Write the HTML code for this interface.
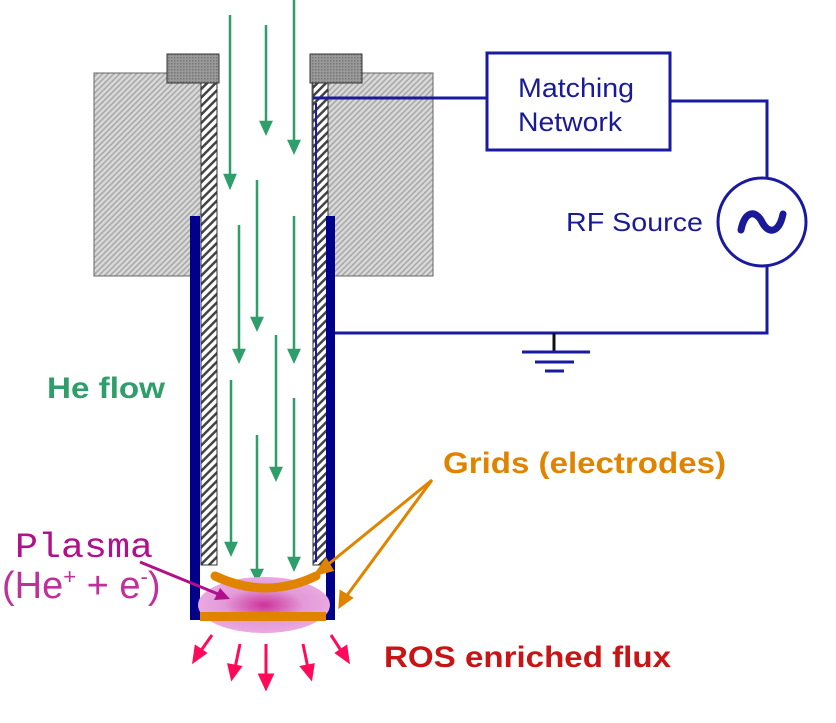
<!DOCTYPE html>
<html><head><meta charset="utf-8"><style>
html,body{margin:0;padding:0;background:#fff;}
svg{display:block;}
text{font-family:"Liberation Sans",sans-serif;}
</style></head><body>
<svg width="836" height="723" viewBox="0 0 836 723">
<defs>
<pattern id="fine" width="4" height="4" patternUnits="userSpaceOnUse" patternTransform="rotate(45)">
<rect width="4" height="4" fill="#d8d8d8"/><rect width="1.5" height="4" fill="#a8a8a8"/></pattern>
<pattern id="tube" width="6" height="6" patternUnits="userSpaceOnUse" patternTransform="rotate(45)">
<rect width="6" height="6" fill="#fff"/><rect width="2.5" height="6" fill="#444"/></pattern>
<pattern id="cap" width="3" height="3" patternUnits="userSpaceOnUse">
<rect width="3" height="3" fill="#999"/><rect width="1.5" height="1.5" fill="#777"/></pattern>
<radialGradient id="pg" cx="0.5" cy="0.5" r="0.5"><stop offset="0" stop-color="#cc3399"/><stop offset="0.6" stop-color="#e29ad8"/><stop offset="1" stop-color="#eaa8e0"/></radialGradient>
</defs>
<rect x="94" y="73" width="107" height="203" fill="url(#fine)" stroke="#666" stroke-width="1"/>
<rect x="312" y="73" width="121" height="203" fill="url(#fine)" stroke="#666" stroke-width="1"/>
<rect x="167" y="54" width="52" height="29" fill="url(#cap)" stroke="#333"/>
<rect x="310" y="54" width="52" height="29" fill="url(#cap)" stroke="#333"/>
<rect x="201" y="83" width="16" height="482" fill="url(#tube)" stroke="#333"/>
<rect x="313" y="83" width="15" height="482" fill="url(#tube)" stroke="#333"/>
<line x1="316" y1="103" x2="316" y2="562" stroke="#1a1aa8" stroke-width="2"/>
<rect x="190" y="216" width="10" height="404" fill="#00008b"/>
<rect x="326" y="216" width="9" height="404" fill="#00008b"/>
<g stroke="#1a1aa0" stroke-width="3" fill="none">
<polyline points="313,98 487,98"/>
<polyline points="670,101 767,101 767,178"/>
<polyline points="767,266 767,333 335,333"/>
<line x1="554" y1="333" x2="554" y2="351" stroke="#111"/>
<line x1="522" y1="352" x2="590" y2="352"/>
<line x1="535" y1="362" x2="574" y2="362"/>
<line x1="545" y1="371" x2="564" y2="371"/>
</g>
<rect x="487" y="53" width="183" height="97" fill="#fff" stroke="#1a1aa0" stroke-width="3"/>
<text x="518" y="97" font-size="27" fill="#1a1a99" textLength="116" lengthAdjust="spacingAndGlyphs">Matching</text>
<text x="518" y="131" font-size="27" fill="#1a1a99" textLength="104" lengthAdjust="spacingAndGlyphs">Network</text>
<circle cx="762" cy="222" r="44" fill="#fff" stroke="#1a1aa0" stroke-width="3"/>
<path d="M741,230 C745,210 756,210 762,222 C768,234 779,234 783,214" stroke="#1a1a99" stroke-width="7" fill="none" stroke-linecap="round"/>
<text x="566" y="231" font-size="26" fill="#1a1a99" textLength="137" lengthAdjust="spacingAndGlyphs">RF Source</text>
<g stroke="#2e9e6a" stroke-width="2.5" fill="#2e9e6a">
<line x1="230" y1="15" x2="230" y2="178"/><path d="M225,175 L230,187 L235,175Z"/>
<line x1="266" y1="25" x2="266" y2="124"/><path d="M261,122 L266,133 L271,122Z"/>
<line x1="294" y1="0" x2="294" y2="143"/><path d="M289,141 L294,152 L299,141Z"/>
<line x1="257" y1="180" x2="257" y2="320"/><path d="M252,318 L257,329 L262,318Z"/>
<line x1="239" y1="225" x2="239" y2="352"/><path d="M234,350 L239,361 L244,350Z"/>
<line x1="294" y1="216" x2="294" y2="352"/><path d="M289,350 L294,361 L299,350Z"/>
<line x1="276" y1="335" x2="276" y2="470"/><path d="M271,468 L276,479 L281,468Z"/>
<line x1="231" y1="380" x2="231" y2="545"/><path d="M226,543 L231,554 L236,543Z"/>
<line x1="294" y1="398" x2="294" y2="560"/><path d="M289,558 L294,569 L299,558Z"/>
<line x1="257" y1="435" x2="257" y2="572"/><path d="M252,570 L257,580 L262,570Z"/>
</g>
<ellipse cx="264" cy="605" rx="66" ry="28" fill="url(#pg)"/>
<path d="M215,576 Q266,600 316,576" stroke="#e08400" stroke-width="9" fill="none" stroke-linecap="round"/>
<rect x="200" y="612" width="126" height="9" fill="#e08400"/>
<g stroke="#e08400" stroke-width="3" fill="#e08400">
<line x1="432" y1="480" x2="325" y2="567"/><path d="M316,574 L326,560 L332,570Z"/>
<line x1="432" y1="480" x2="345" y2="598"/><path d="M340,606 L341,592 L351,598Z"/>
</g>
<line x1="140" y1="562" x2="218" y2="594" stroke="#b0108a" stroke-width="3"/>
<path d="M230,599 L214,600 L220,588Z" fill="#b0108a"/>
<g stroke="#ff0a5a" stroke-width="3" fill="#ff0a5a">
<line x1="212" y1="635" x2="200" y2="652"/><path d="M194,661 L196,647 L205,653Z"/>
<line x1="240" y1="644" x2="235" y2="668"/><path d="M232,678 L229,665 L240,667Z"/>
<line x1="266" y1="644" x2="266" y2="677"/><path d="M266,688 L260,675 L272,675Z"/>
<line x1="303" y1="644" x2="308" y2="668"/><path d="M311,678 L302,667 L313,665Z"/>
<line x1="331" y1="635" x2="342" y2="652"/><path d="M348,661 L337,653 L346,647Z"/>
</g>
<text x="47" y="398" font-size="30" font-weight="bold" fill="#2e9e6a" textLength="118" lengthAdjust="spacingAndGlyphs">He flow</text>
<text x="443" y="473" font-size="30" font-weight="bold" fill="#e08400" textLength="283" lengthAdjust="spacingAndGlyphs">Grids (electrodes)</text>
<text x="384" y="667" font-size="30" font-weight="bold" fill="#c81414" textLength="287" lengthAdjust="spacingAndGlyphs">ROS enriched flux</text>
<text x="15" y="557" font-size="35" fill="#b0108a" style="font-family:'Liberation Mono',monospace" textLength="138" lengthAdjust="spacingAndGlyphs">Plasma</text>
<text x="2" y="598" font-size="38" fill="#c0309a">(He<tspan font-size="22" dy="-14">+</tspan><tspan dy="14"> + e</tspan><tspan font-size="22" dy="-14">-</tspan><tspan dy="14">)</tspan></text>
</svg>
</body></html>
